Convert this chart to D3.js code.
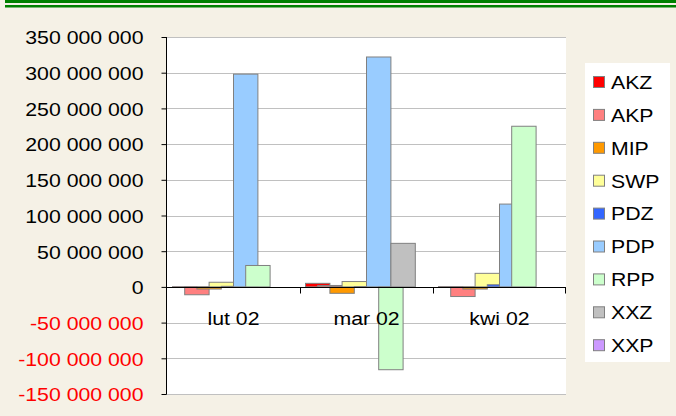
<!DOCTYPE html>
<html>
<head>
<meta charset="utf-8">
<script src="https://cdn.jsdelivr.net/npm/d3@7"></script>
<style>
body { margin: 0; background: #F5F1E6; }
svg { display: block; font-family: "Liberation Sans", Arial, sans-serif; }
</style>
</head>
<body>
<div id="chart"></div>
<script>
// data (values in zl)
var months = ["lut 02", "mar 02", "kwi 02"];
var seriesNames = ["AKZ", "AKP", "MIP", "SWP", "PDZ", "PDP", "RPP", "XXZ", "XXP"];
var seriesColors = ["#FF0000", "#FF8080", "#FF9900", "#FFFF99", "#3366FF", "#99CCFF", "#CCFFCC", "#C0C0C0", "#CC99FF"];
var AKZ = [300000, 5000000, 400000];
var AKP = [-11000000, 2000000, -13500000];
var MIP = [-3000000, -9000000, -3000000];
var SWP = [6500000, 7500000, 19000000];
var PDZ = [800000, 500000, 3000000];
var PDP = [298000000, 322000000, 116000000];
var RPP = [30000000, -116000000, 225000000];
var XXZ = [0, 61000000, 0];
var XXP = [0, 0, 0];
var yTicks = [-150000000, -100000000, -50000000, 0, 50000000, 100000000, 150000000, 200000000, 250000000, 300000000, 350000000];

var seriesValues = [AKZ, AKP, MIP, SWP, PDZ, PDP, RPP, XXZ, XXP];

var width = 676, height = 416;
var plot = {left: 167, right: 566, top: 37, bottom: 394};
var textStretch = 1.12;

var svg = d3.select("#chart").append("svg")
	.attr("width", width)
	.attr("height", height);

svg.append("rect").attr("width", width).attr("height", height).attr("fill", "#F5F1E6");

// green double rule on top
svg.append("rect").attr("x", 5).attr("y", 0).attr("width", width - 5).attr("height", 3).attr("fill", "#008000");
svg.append("rect").attr("x", 5).attr("y", 5).attr("width", width - 5).attr("height", 2.5).attr("fill", "#008000");

var y = d3.scaleLinear().domain([-150000000, 350000000]).range([plot.bottom, plot.top]);
var x = d3.scaleBand().domain(months).range([plot.left, plot.right]);

// bars overlap by half their width
var step = 12.2, barW = step * 2;
var xs = d3.scaleLinear().domain([0, 1]).range([0, step]);
var pad = (x.bandwidth() - (step * 8 + barW)) / 2;

svg.append("rect")
	.attr("x", plot.left).attr("y", plot.top)
	.attr("width", plot.right - plot.left).attr("height", plot.bottom - plot.top)
	.attr("fill", "#FFFFFF");

// gridlines
svg.append("g").selectAll("line")
	.data(yTicks.filter(function(d){ return d != 0; }))
	.enter().append("line")
	.attr("x1", plot.left).attr("x2", plot.right)
	.attr("y1", function(d){ return Math.round(y(d)) + 0.5; })
	.attr("y2", function(d){ return Math.round(y(d)) + 0.5; })
	.attr("stroke", "#C0C0C0").attr("stroke-width", 1);

// bars
var bars = [];
seriesNames.forEach(function(name, i){
	months.forEach(function(m, j){
		bars.push({series: i, month: m, value: seriesValues[i][j]});
	});
});

svg.append("g").selectAll("rect")
	.data(bars)
	.enter().append("rect")
	.attr("x", function(d){ return x(d.month) + pad + xs(d.series); })
	.attr("y", function(d){ return y(Math.max(0, d.value)); })
	.attr("width", barW)
	.attr("height", function(d){ return Math.abs(y(d.value) - y(0)); })
	.attr("fill", function(d){ return seriesColors[d.series]; })
	.attr("stroke", "#808080")
	.attr("stroke-width", 1)
	.attr("opacity", function(d){ return d.value == 0 ? 0 : 1; });

// zero line + category ticks
var zeroY = Math.round(y(0)) + 0.5;
svg.append("line")
	.attr("x1", plot.left).attr("x2", plot.right)
	.attr("y1", zeroY).attr("y2", zeroY)
	.attr("stroke", "#000000");
svg.append("g").selectAll("line")
	.data(months.slice(1).concat(["end"]))
	.enter().append("line")
	.attr("x1", function(d){ return d == "end" ? plot.right - 0.5 : Math.round(x(d)) + 0.5; })
	.attr("x2", function(d){ return d == "end" ? plot.right - 0.5 : Math.round(x(d)) + 0.5; })
	.attr("y1", zeroY).attr("y2", zeroY + 6)
	.attr("stroke", "#000000");

// category labels
svg.append("g").selectAll("g")
	.data(months)
	.enter().append("g")
	.attr("transform", function(d){ return "translate(" + (x(d) + x.bandwidth() / 2) + ",325) scale(" + textStretch + ",1)"; })
	.append("text")
	.attr("text-anchor", "middle")
	.attr("font-size", 19)
	.attr("fill", "#000000")
	.text(function(d){ return d; });

// y axis
var yAxis = d3.axisLeft(y)
	.tickValues(yTicks)
	.tickSize(5)
	.tickFormat(function(d){ return d3.format(",")(d).replace(/,/g, " ").replace("\u2212", "-"); });

var gy = svg.append("g")
	.attr("transform", "translate(" + (plot.left - 0.5) + ",0)")
	.call(yAxis);
gy.select(".domain").attr("stroke", "#000000").attr("d", "M0," + plot.top + "V" + (plot.bottom + 0.5));
gy.selectAll(".tick line").attr("stroke", "#000000");
gy.selectAll(".tick text").remove();
gy.selectAll(".tick").append("g")
	.attr("transform", "translate(-23,0) scale(" + textStretch + ",1)")
	.append("text")
	.attr("text-anchor", "end")
	.attr("dy", "0.36em")
	.attr("font-size", 19)
	.attr("font-family", "'Liberation Sans', Arial, sans-serif")
	.attr("fill", function(d){ return d < 0 ? "#FF0000" : "#000000"; })
	.text(function(d){ return d3.format(",")(d).replace(/,/g, " ").replace("\u2212", "-"); });

// legend
var legend = svg.append("g");
legend.append("rect")
	.attr("x", 585).attr("y", 63).attr("width", 85).attr("height", 299)
	.attr("fill", "#FFFFFF");
var items = legend.selectAll("g.item")
	.data(seriesNames)
	.enter().append("g")
	.attr("class", "item")
	.attr("transform", function(d, i){ return "translate(593," + (82 + i * 32.9) + ")"; });
items.append("rect")
	.attr("x", 0.5).attr("y", -5.5).attr("width", 11).attr("height", 11)
	.attr("fill", function(d, i){ return seriesColors[i]; })
	.attr("stroke", "#808080");
items.append("g")
	.attr("transform", "translate(18,0) scale(" + textStretch + ",1)")
	.append("text")
	.attr("dy", "0.36em")
	.attr("font-size", 19)
	.attr("fill", "#000000")
	.text(function(d){ return d; });
</script>
</body>
</html>
